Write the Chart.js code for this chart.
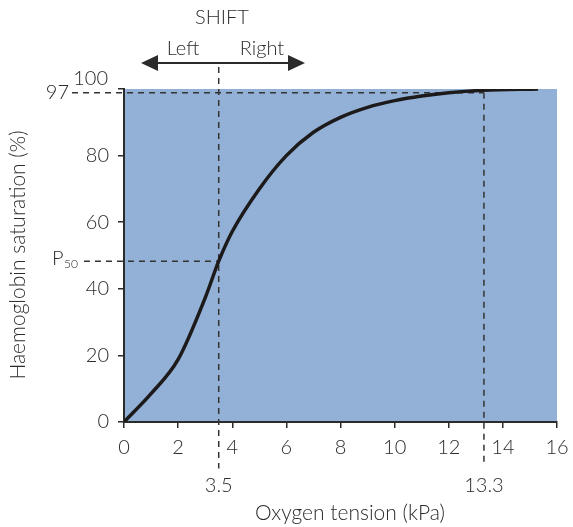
<!DOCTYPE html>
<html>
<head>
<meta charset="utf-8">
<script src="https://cdn.jsdelivr.net/npm/chart.js"></script>
<style>
  body { margin: 0; background: #fff; }
</style>
</head>
<body>
<canvas id="odc" width="573" height="527"></canvas>
<script>
// oxygen dissociation curve
const pressure = [0, 1, 2, 3, 3.5, 4, 5, 6, 7, 8, 9, 10, 11, 12, 13.3, 15.3];
const saturation = [0, 8.5, 18.8, 37.3, 48.3, 57.2, 70, 80, 87, 91.5, 94.5, 96.5, 97.9, 98.9, 99.6, 100];

// guide lines (dashed)
const p50Vertical = [{x: 3.5, y: 106.6}, {x: 3.5, y: -14}];
const p50Horizontal = [{x: -1.48, y: 48.3}, {x: 3.5, y: 48.3}];
const sat97Horizontal = [{x: -1.92, y: 98.9}, {x: 13.3, y: 98.9}];
const sat97Vertical = [{x: 13.3, y: 98.9}, {x: 13.3, y: -13}];

const xTicks = [0, 2, 4, 6, 8, 10, 12, 14, 16];
const yTicks = [0, 20, 40, 60, 80, 100];

const FONT = 'Lato, "Open Sans", sans-serif';
const INK = '#2b2b2b';
const DASH = '#333';

const curve = pressure.map((p, i) => ({x: p, y: saturation[i]}));

function dashed(data) {
  return {
    data: data,
    borderColor: DASH,
    borderWidth: 1.5,
    borderDash: [6, 5],
    pointRadius: 0,
    clip: false,
    tension: 0
  };
}

const extras = {
  id: 'extras',
  beforeDraw(chart) {
    const {ctx, chartArea: a} = chart;
    ctx.save();
    ctx.fillStyle = '#93b0d6';
    ctx.fillRect(a.left, a.top, a.right - a.left, a.bottom - a.top);
    ctx.restore();
  },
  afterDraw(chart) {
    const ctx = chart.ctx;
    const xs = chart.scales.x, ys = chart.scales.y;
    ctx.save();
    ctx.fillStyle = INK;
    ctx.textBaseline = 'middle';

    // axis titles
    ctx.font = '300 21px ' + FONT;
    ctx.textAlign = 'center';
    ctx.fillText('Oxygen tension (kPa)', 350, 513);
    ctx.save();
    ctx.translate(18, 255);
    ctx.rotate(-Math.PI / 2);
    ctx.fillText('Haemoglobin saturation (%)', 0, 0);
    ctx.restore();

    // marked values under the x axis
    ctx.font = '300 20px ' + FONT;
    ctx.fillText('3.5', xs.getPixelForValue(3.5), 486);
    ctx.fillText('13.3', xs.getPixelForValue(13.3), 486);

    // 100 and 97 labels
    ctx.textAlign = 'right';
    ctx.fillText('100', 108, 79);
    ctx.fillText('97', 69, ys.getPixelForValue(98.9));

    // P50
    const py = ys.getPixelForValue(48.3);
    ctx.textAlign = 'left';
    ctx.font = '300 20px ' + FONT;
    ctx.fillText('P', 52, py - 3);
    ctx.font = '300 12px ' + FONT;
    ctx.fillText('50', 64, py + 3);

    // shift arrow
    ctx.font = '300 20px ' + FONT;
    ctx.textAlign = 'center';
    ctx.fillText('SHIFT', 222, 18);
    ctx.fillText('Left', 183, 49);
    ctx.fillText('Right', 262, 49);
    ctx.strokeStyle = INK;
    ctx.lineWidth = 2;
    ctx.beginPath();
    ctx.moveTo(155, 63);
    ctx.lineTo(290, 63);
    ctx.stroke();
    ctx.beginPath();
    ctx.moveTo(141, 63); ctx.lineTo(158, 55); ctx.lineTo(158, 71); ctx.closePath();
    ctx.fill();
    ctx.beginPath();
    ctx.moveTo(305, 63); ctx.lineTo(288, 55); ctx.lineTo(288, 71); ctx.closePath();
    ctx.fill();
    ctx.restore();
  }
};

new Chart(document.getElementById('odc'), {
  type: 'line',
  data: {
    datasets: [
      {
        data: curve,
        borderColor: '#1c1a1a',
        borderWidth: 3.5,
        pointRadius: 0,
        cubicInterpolationMode: 'monotone'
      },
      dashed(p50Vertical),
      dashed(p50Horizontal),
      dashed(sat97Horizontal),
      dashed(sat97Vertical)
    ]
  },
  options: {
    responsive: false,
    animation: false,
    layout: { padding: { top: 89, right: 16, left: 0, bottom: 0 } },
    plugins: { legend: { display: false }, tooltip: { enabled: false } },
    scales: {
      x: {
        type: 'linear',
        min: 0, max: 16,
        afterBuildTicks: s => { s.ticks = xTicks.map(v => ({value: v})); },
        afterFit: s => { s.height = 105; s.paddingLeft = 0; s.paddingRight = 0; },
        grid: { drawOnChartArea: false, drawTicks: true, tickLength: 6, color: INK, lineWidth: 1.5 },
        border: { display: true, color: INK, width: 2 },
        ticks: { color: INK, padding: 8, maxRotation: 0, font: { family: FONT, size: 20, weight: 300 } }
      },
      y: {
        type: 'linear',
        min: 0, max: 100,
        afterBuildTicks: s => { s.ticks = yTicks.map(v => ({value: v})); },
        afterFit: s => { s.width = 124; s.paddingTop = 0; s.paddingBottom = 0; },
        grid: { drawOnChartArea: false, drawTicks: true, tickLength: 6, color: INK, lineWidth: 1.5 },
        border: { display: true, color: INK, width: 2 },
        ticks: {
          color: INK, padding: 9,
          font: { family: FONT, size: 20, weight: 300 },
          callback: v => (v === 100 ? '' : v)
        }
      }
    }
  },
  plugins: [extras]
});
</script>
</body>
</html>
